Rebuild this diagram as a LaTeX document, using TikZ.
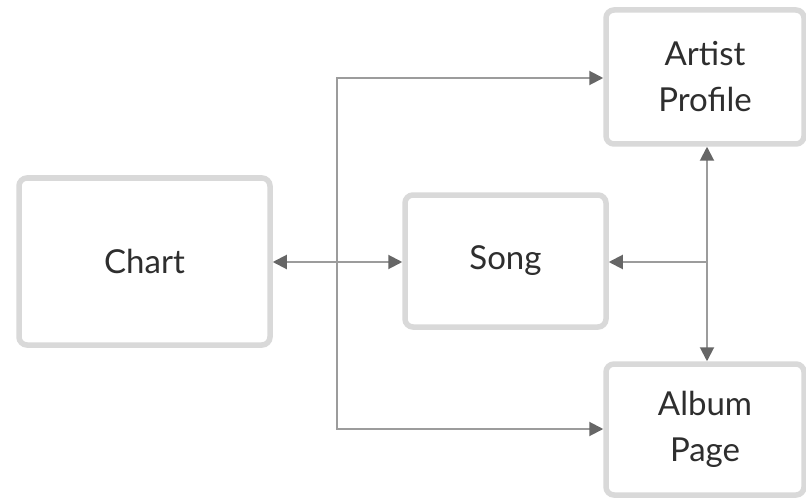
\documentclass[tikz,border=0pt]{standalone}
\usepackage{fontspec}
\setmainfont{Lato}
\usetikzlibrary{arrows.meta}
\definecolor{boxline}{HTML}{D9D9D9}
\definecolor{conn}{HTML}{9C9C9C}
\definecolor{tip}{HTML}{666666}
\definecolor{txt}{HTML}{2E2E2E}
\tikzset{
  box/.style={draw=boxline, line width=5.5pt, rounded corners=8pt, fill=white,
    text=txt, font=\fontsize{33}{46}\selectfont, align=center, inner sep=0pt},
  conline/.style={draw=conn, line width=2pt},
  tipshape/.tip={Triangle[length=14pt, width=14pt, fill=tip, color=tip]},
  conar/.style={conline, -tipshape},
  conarboth/.style={conline, tipshape-tipshape}
}
\begin{document}
\begin{tikzpicture}[x=1pt, y=-1pt]
\useasboundingbox (0,0) rectangle (806,500);
\node[box, minimum width=251pt, minimum height=167pt] (chart) at (144.5,261.5) {Chart};
\node[box, minimum width=201pt, minimum height=132pt] (song) at (505.5,261) {Song};
\node[box, minimum width=198pt, minimum height=134pt] (artist) at (705,77) {Artist\\Profile};
\node[box, minimum width=198pt, minimum height=131pt] (album) at (705,429.5) {Album\\Page};
\coordinate (jl) at (337,262);
\coordinate (jr) at (707,262);
\draw[conarboth] (chart.east |- jl) -- (song.west |- jl);
\draw[conar] (jl) |- (artist.west |- 0,78);
\draw[conar] (jl) |- (album.west |- 0,429);
\draw[conarboth] (artist.south -| jr) -- (album.north -| jr);
\draw[conar] (jr) -- (song.east |- jr);
\end{tikzpicture}
\end{document}
